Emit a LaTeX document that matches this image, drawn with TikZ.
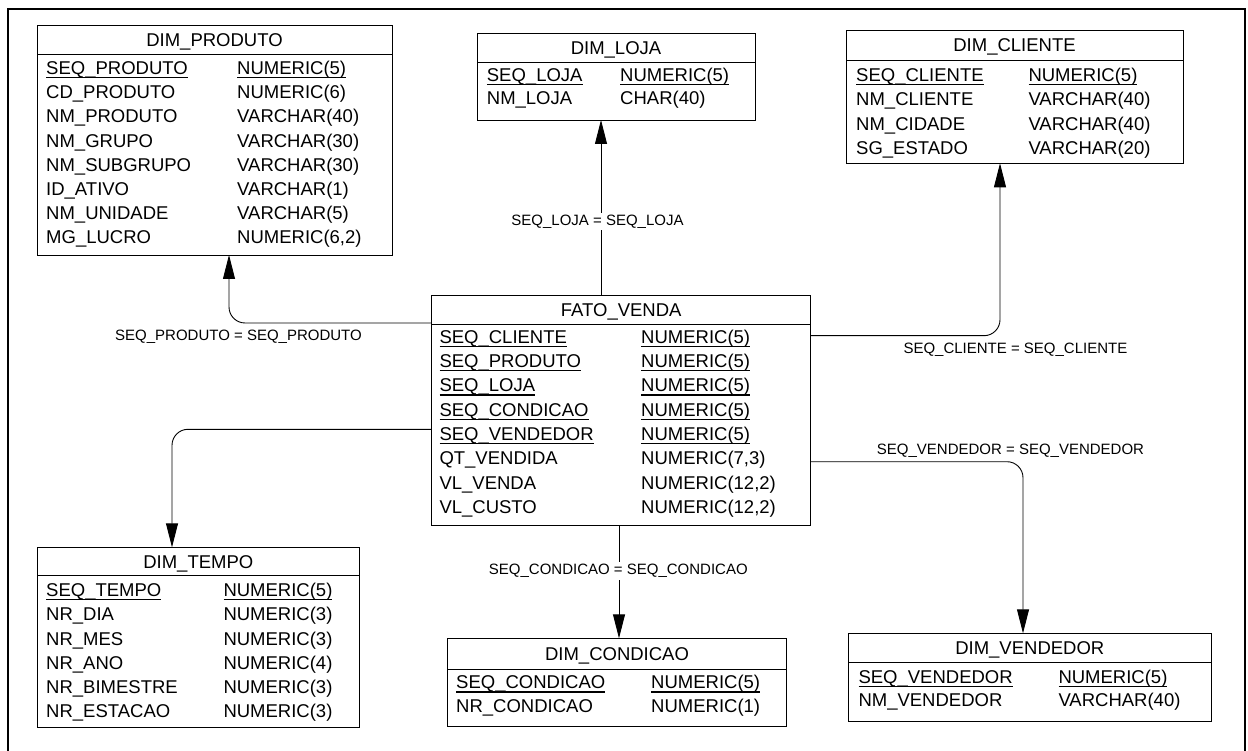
\documentclass[tikz,border=0pt]{standalone}
\usepackage{fontspec}
\setmainfont{Liberation Sans}
\usetikzlibrary{arrows.meta}

% primary-key fields: text with a rule at underscore height
\newsavebox\pkbox
\newcommand\pkey[1]{\sbox\pkbox{#1}\rlap{\vrule height -0.125em depth 0.205em width \wd\pkbox}\usebox\pkbox}

\tikzset{
  tablebox/.style={draw, line width=0.9pt, rectangle, inner sep=0pt, outer sep=0pt},
  sepline/.style={line width=0.9pt},
  titletext/.style={inner sep=0pt, anchor=base, font=\fontsize{18.5}{20}\selectfont},
  fieldtext/.style={inner sep=0pt, anchor=base west, font=\fontsize{18.5}{20}\selectfont},
  reltext/.style={inner sep=2pt, font=\fontsize{15}{17}\selectfont},
  fk/.style={line width=0.9pt, rounded corners=16pt, -{Triangle[length=24pt,width=12pt]}},
  frameline/.style={line width=2pt},
}

% table frame: name, x1, y1, x2, y2, separator y, title
\newcommand\dbtable[7]{%
  \node[tablebox, anchor=north west, minimum width={(#4)-(#2)}, minimum height={(#5)-(#3)}] (#1) at (#2,#3) {};
  \draw[sepline] (#1.west |- 0,#6) -- (#1.east |- 0,#6);
  \node[titletext] (#1-title) at ({(#2+#4)/2},{(#3+#6)/2+6.6}) {#7};
}
% table fields: name, column 1 x, column 2 x, first row centre y, row step, list name/type/key
\newcommand\dbrows[6]{%
  \foreach \fa/\fb/\fk [count=\i] in {#6} {
    \node[fieldtext] (#1-n\i) at (#2,{#4+(\i-1)*#5+6.6}) {\ifnum\fk=1 \pkey{\fa}\else\fa\fi};
    \node[fieldtext] (#1-t\i) at (#3,{#4+(\i-1)*#5+6.6}) {\ifnum\fk=1 \pkey{\fb}\else\fb\fi};
  }
}

\begin{document}
\begin{tikzpicture}[x=1pt, y=-1pt]
\useasboundingbox (0,0) rectangle (1248,751);
\draw[frameline] (7.5,760) -- (7.5,9) -- (1245,9) -- (1245,760);

% dimension and fact tables
\dbtable{prod}{37}{25}{392}{255}{54}{DIM\_PRODUTO}
\dbrows{prod}{46}{237}{68}{24.2}{
  SEQ\_PRODUTO/{NUMERIC(5)}/1,
  CD\_PRODUTO/{NUMERIC(6)}/0,
  NM\_PRODUTO/{VARCHAR(40)}/0,
  NM\_GRUPO/{VARCHAR(30)}/0,
  NM\_SUBGRUPO/{VARCHAR(30)}/0,
  ID\_ATIVO/{VARCHAR(1)}/0,
  NM\_UNIDADE/{VARCHAR(5)}/0,
  MG\_LUCRO/{NUMERIC(6,2)}/0}

\dbtable{loja}{477}{33}{755}{120}{62.7}{DIM\_LOJA}
\dbrows{loja}{486.7}{620}{75}{23.3}{
  SEQ\_LOJA/{NUMERIC(5)}/1,
  NM\_LOJA/{CHAR(40)}/0}

\dbtable{cli}{846}{30}{1183}{163.3}{60}{DIM\_CLIENTE}
\dbrows{cli}{856}{1028.3}{75}{24.3}{
  SEQ\_CLIENTE/{NUMERIC(5)}/1,
  NM\_CLIENTE/{VARCHAR(40)}/0,
  NM\_CIDADE/{VARCHAR(40)}/0,
  SG\_ESTADO/{VARCHAR(20)}/0}

\dbtable{fato}{431.7}{295}{810.7}{525}{324.3}{FATO\_VENDA}
\dbrows{fato}{439.3}{641}{336.7}{24.3}{
  SEQ\_CLIENTE/{NUMERIC(5)}/1,
  SEQ\_PRODUTO/{NUMERIC(5)}/1,
  SEQ\_LOJA/{NUMERIC(5)}/1,
  SEQ\_CONDICAO/{NUMERIC(5)}/1,
  SEQ\_VENDEDOR/{NUMERIC(5)}/1,
  QT\_VENDIDA/{NUMERIC(7,3)}/0,
  VL\_VENDA/{NUMERIC(12,2)}/0,
  VL\_CUSTO/{NUMERIC(12,2)}/0}

\dbtable{tempo}{37.3}{547.3}{359.3}{727.7}{575.7}{DIM\_TEMPO}
\dbrows{tempo}{46}{223.3}{590}{24.2}{
  SEQ\_TEMPO/{NUMERIC(5)}/1,
  NR\_DIA/{NUMERIC(3)}/0,
  NR\_MES/{NUMERIC(3)}/0,
  NR\_ANO/{NUMERIC(4)}/0,
  NR\_BIMESTRE/{NUMERIC(3)}/0,
  NR\_ESTACAO/{NUMERIC(3)}/0}

\dbtable{cond}{447.3}{638.3}{786.7}{726}{669}{DIM\_CONDICAO}
\dbrows{cond}{456}{651}{682.3}{23.3}{
  SEQ\_CONDICAO/{NUMERIC(5)}/1,
  NR\_CONDICAO/{NUMERIC(1)}/0}

\dbtable{vend}{848.3}{633.3}{1211.3}{721}{662.7}{DIM\_VENDEDOR}
\dbrows{vend}{858.3}{1058.3}{676.7}{23.3}{
  SEQ\_VENDEDOR/{NUMERIC(5)}/1,
  NM\_VENDEDOR/{VARCHAR(40)}/0}

% foreign-key relationships
\draw[fk] (fato.west |- 0,323) -| (prod.south -| 229,0);
\draw[fk] (fato.north -| 601,0) -- (loja.south -| 601,0);
\draw[fk] (fato.east |- 0,335.7) -| (cli.south -| 1000,0);
\draw[fk] (fato.west |- 0,429.3) -| (tempo.north -| 172,0);
\draw[fk] (fato.east |- 0,461.7) -| (vend.north -| 1023,0);
\draw[fk] (fato.south -| 619,0) -- (cond.north -| 619,0);

% join conditions
\node[reltext, anchor=base east] (rel-prod) at (364,340.4) {SEQ\_PRODUTO = SEQ\_PRODUTO};
\node[reltext, anchor=base, fill=white] (rel-loja) at (597.5,225.4) {SEQ\_LOJA = SEQ\_LOJA};
\node[reltext, anchor=base west] (rel-cli) at (901.3,353.7) {SEQ\_CLIENTE = SEQ\_CLIENTE};
\node[reltext, anchor=base west] (rel-vend) at (874.7,454.4) {SEQ\_VENDEDOR = SEQ\_VENDEDOR};
\node[reltext, anchor=base, fill=white] (rel-cond) at (618.3,574.7) {SEQ\_CONDICAO = SEQ\_CONDICAO};
\end{tikzpicture}
\end{document}
